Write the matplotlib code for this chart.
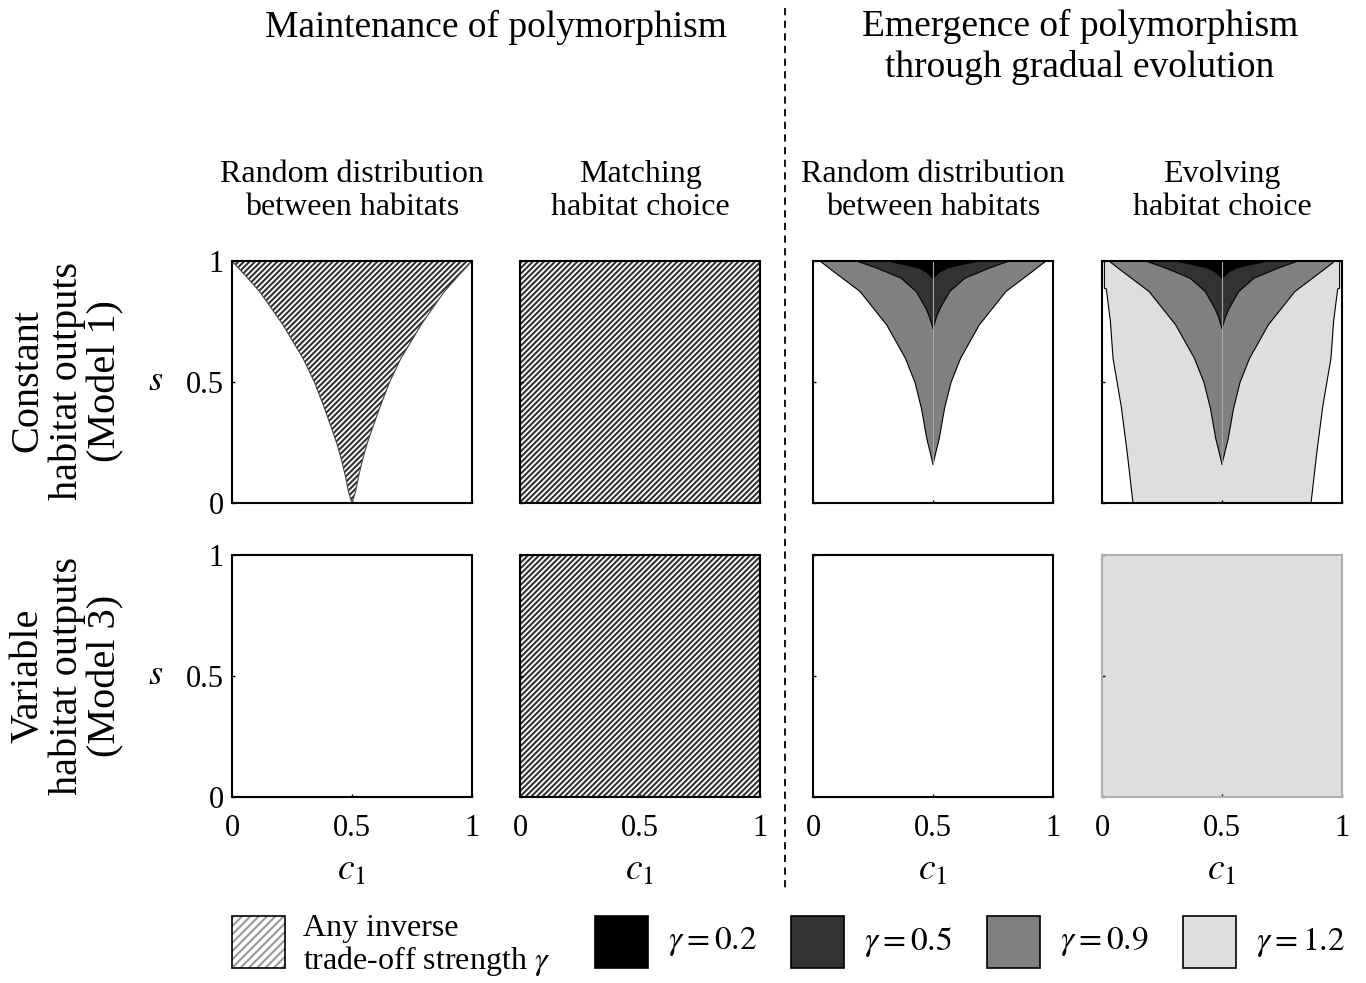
import numpy as np
import matplotlib.pyplot as plt
from matplotlib.patches import Rectangle
from matplotlib.lines import Line2D

plt.rcParams['font.family'] = ['Liberation Serif', 'DejaVu Serif']
plt.rcParams['mathtext.fontset'] = 'stix'
plt.rcParams['hatch.linewidth'] = 1.5

# s values and left boundary c1 (regions symmetric about c1 = 0.5)
any_s = [0.0, 0.044, 0.113, 0.183, 0.252, 0.39, 0.498, 0.598, 0.667, 0.736, 0.805,
         0.874, 0.943, 1.0]
any_c1 = [0.5, 0.486, 0.472, 0.455, 0.435, 0.386, 0.344, 0.296, 0.254, 0.2125, 0.164,
          0.115, 0.053, 0.0]

g09_s = [0.16, 0.21, 0.266, 0.39, 0.498, 0.598, 0.736, 0.874, 0.957, 1.0]
g09_c1 = [0.5, 0.488, 0.474, 0.452, 0.425, 0.385, 0.307, 0.196, 0.085, 0.029]

g05_s = [0.722, 0.77, 0.805, 0.874, 0.929, 0.971, 1.0]
g05_c1 = [0.5, 0.485, 0.47, 0.43, 0.367, 0.265, 0.182]

g02_s = [0.929, 0.955, 0.971, 0.982, 1.0]
g02_c1 = [0.5, 0.472, 0.44, 0.395, 0.31]

g12_s = [0.0, 0.2, 0.4, 0.598, 0.75, 0.885, 0.887, 1.0]
g12_c1 = [0.129, 0.106, 0.08, 0.046, 0.035, 0.018, 0.01, 0.01]

gammas = [0.2, 0.5, 0.9, 1.2]
gamma_colors = ['#000000', '#313331', '#808080', '#dedede']
hatch_col = '#333333'

col_titles = ["Random distribution\nbetween habitats", "Matching\nhabitat choice",
              "Random distribution\nbetween habitats", "Evolving\nhabitat choice"]
row_titles = ["Constant\nhabitat outputs\n(Model 1)", "Variable\nhabitat outputs\n(Model 3)"]

W, H = 1366, 983
fig = plt.figure(figsize=(W / 100, H / 100), dpi=100)

col_x = [232, 520, 813, 1102]
row_y = [261, 555]
pw, ph = 240, 242


def region(ax, s, c1, color, hatch=False, edge='black'):
    s = np.array(s)
    left = np.array(c1)
    right = 1 - left
    if hatch:
        ax.fill_betweenx(s, left, right, facecolor='white', edgecolor=hatch_col,
                         hatch='/' * 6, linewidth=0)
    else:
        ax.fill_betweenx(s, left, right, facecolor=color, linewidth=0)
    if edge:
        ax.plot(left, s, color=edge, lw=0.8)
        ax.plot(right, s, color=edge, lw=0.8)


axes = {}
for r in range(2):
    for c in range(4):
        ax = fig.add_axes([col_x[c] / W, 1 - (row_y[r] + ph) / H, pw / W, ph / H])
        ax.set_xlim(0, 1)
        ax.set_ylim(0, 1)
        ax.set_xticks([0, 0.5, 1])
        ax.set_yticks([0, 0.5, 1])
        ax.tick_params(direction='in', length=2, width=1, labelsize=22, pad=6)
        ax.tick_params(axis='x', pad=12)
        for sp in ax.spines.values():
            sp.set_linewidth(1.5)
        if c == 0:
            ax.set_yticklabels(['0', '0.5', '1'])
            ax.set_ylabel('$s$', fontsize=26, rotation=0, labelpad=22, va='center')
        else:
            ax.set_yticklabels([])
        if r == 1:
            ax.set_xticklabels(['0', '0.5', '1'])
            ax.set_xlabel('$c_1$', fontsize=27, labelpad=8)
        else:
            ax.set_xticklabels([])
        axes[r, c] = ax

# row 1
region(axes[0, 0], any_s, any_c1, None, hatch=True, edge='#444444')
region(axes[0, 1], [0, 1], [0, 0], None, hatch=True, edge=None)
for a in (axes[0, 2], axes[0, 3]):
    if a is axes[0, 3]:
        region(a, g12_s, g12_c1, gamma_colors[3])
    region(a, g09_s, g09_c1, gamma_colors[2])
    region(a, g05_s, g05_c1, gamma_colors[1])
    region(a, g02_s, g02_c1, gamma_colors[0])
    a.plot([0.5, 0.5], [g09_s[0], 1], color='#a8a8a8', lw=0.8)
# row 2
region(axes[1, 1], [0, 1], [0, 0], None, hatch=True, edge=None)
region(axes[1, 3], [0, 1], [0, 0], gamma_colors[3], edge=None)
for sp in axes[1, 3].spines.values():
    sp.set_color('#b0b0b0')

for c in range(4):
    axes[0, c].set_title(col_titles[c], fontsize=23, pad=33, linespacing=1.2)

fig.text(496 / W, 1 - 27 / H, "Maintenance of polymorphism", fontsize=27,
         ha='center', va='center')
fig.text(1080 / W, 1 - 47 / H, "Emergence of polymorphism\nthrough gradual evolution",
         fontsize=27, ha='center', va='center', linespacing=1.2)
for r, yc in enumerate([381, 676]):
    fig.text(67 / W, 1 - yc / H, row_titles[r], fontsize=29, rotation=90,
             ha='center', va='center', linespacing=1.06)

fig.add_artist(Line2D([785 / W, 785 / W], [1 - 8 / H, 1 - 890 / H],
                      transform=fig.transFigure, color='black', lw=1.3, ls=(0, (4, 3))))

# legend
lg = fig.add_axes([0, 0, 1, 1], facecolor='none')
lg.set_xlim(0, W)
lg.set_ylim(H, 0)
lg.axis('off')
lg.add_patch(Rectangle((232, 916), 53, 52, facecolor='white', edgecolor='#9a9a9a', lw=0,
                       hatch='////'))
lg.add_patch(Rectangle((232, 916), 53, 52, facecolor='none', edgecolor='black', lw=1.2))
lg.text(303, 946, "Any inverse\ntrade-off strength $\\gamma$", fontsize=23,
        va='center', ha='left', linespacing=1.05)
for i, g in enumerate(gammas):
    x0 = 595 + i * 196
    lg.add_patch(Rectangle((x0, 916), 53, 52, facecolor=gamma_colors[i],
                           edgecolor='black', lw=1.2))
    lg.text(x0 + 73, 942, "$\\gamma = %s$" % g, fontsize=24, va='center', ha='left')

fig.savefig('out.png', dpi=100)
